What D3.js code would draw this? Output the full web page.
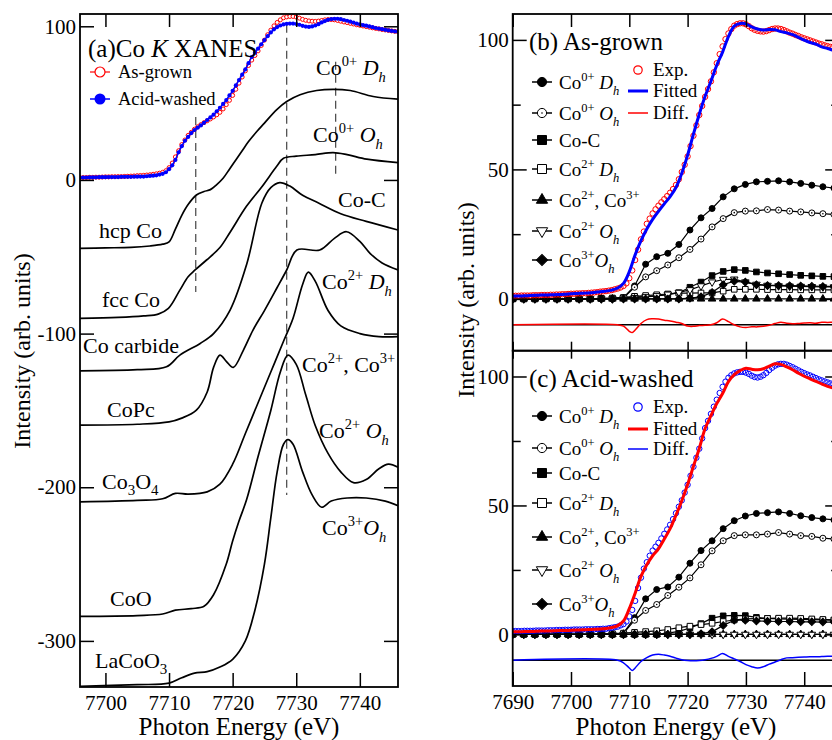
<!DOCTYPE html>
<html>
<head>
<meta charset="utf-8">
<script src="https://cdn.jsdelivr.net/npm/d3@7"></script>
<style>
  body { margin: 0; background: #fff; }
  svg { display: block; }
</style>
</head>
<body>
<script>
// ---------- data ----------

// experimental spectra, 0.5 eV steps from 7690 eV
const expStart = 7690, expStep = 0.5;
const asGrownExp = [
  1.2,1.2,1.2,1.3,1.3,1.3,1.3,1.4,1.4,1.4,
  1.5,1.5,1.5,1.6,1.6,1.7,1.7,1.8,1.8,1.9,
  2.0,2.0,2.1,2.1,2.2,2.2,2.3,2.4,2.5,2.6,
  2.8,2.9,3.0,3.2,3.4,3.7,4.0,4.4,5.0,6.0,
  8.0,11.0,15.0,19.0,23.0,26.0,29.0,31.0,33.0,34.6,
  36.0,37.3,38.5,39.7,41.0,42.4,44.0,46.2,49.0,51.8,
  55.0,59.0,63.0,67.0,71.0,74.5,78.0,81.0,84.0,87.5,
  91.0,94.5,97.5,100.3,102.5,104.2,105.5,106.1,106.4,106.4,
  106.0,105.3,104.5,103.9,103.5,103.3,103.2,103.4,103.8,104.2,
  104.4,104.4,104.2,103.8,103.3,102.8,102.4,101.9,101.5,101.0,
  100.6,100.2,99.8,99.4,99.0,98.6,98.3,97.9,97.6,97.3,
  97.0,96.7,96.5
];
const acidWashedExp = [
  1.3,1.3,1.3,1.3,1.4,1.4,1.4,1.4,1.5,1.5,
  1.5,1.5,1.6,1.6,1.6,1.7,1.7,1.7,1.8,1.8,
  1.8,1.9,1.9,1.9,1.9,2.0,2.0,2.0,2.0,2.1,
  2.1,2.2,2.2,2.4,2.6,2.8,3.0,3.5,4.0,5.0,
  7.0,9.5,13.0,18.0,22.0,25.5,28.0,30.5,32.5,34.0,
  35.5,37.2,39.0,40.7,42.5,44.7,47.0,49.5,52.0,55.0,
  58.0,61.5,65.0,68.5,72.0,76.0,80.0,82.8,85.5,88.3,
  91.0,93.6,96.0,98.0,99.5,100.5,101.2,101.6,101.8,101.8,
  101.5,101.0,100.3,99.8,99.6,99.9,100.5,101.4,102.5,103.4,
  104.2,104.7,104.9,104.9,104.6,104.1,103.6,103.0,102.4,101.8,
  101.3,100.8,100.4,99.9,99.4,98.9,98.5,98.1,97.7,97.3,
  97.0,96.7,96.5
];

// fitted curves, 1 eV steps from 7690 eV
const fitStart = 7690, fitStep = 1;
const asGrownFit = [
  1.1,1.1,1.2,1.3,1.4,1.5,1.5,1.6,1.7,1.8,
  2.0,2.1,2.2,2.3,2.5,2.8,3.0,3.4,4.2,6.0,
  10.5,17.0,22.5,27.0,30.7,33.8,36.7,39.5,43.0,48.5,
  55.5,63.6,71.3,78.2,84.0,90.2,95.3,101.3,105.3,106.3,
  106.2,105.0,104.2,103.8,104.0,103.9,103.2,102.7,102.0,101.0,
  99.9,99.0,98.4,97.3,96.7,96.0,95.5
];
const acidWashedFit = [
  1.0,1.0,1.1,1.1,1.2,1.3,1.3,1.4,1.5,1.5,
  1.6,1.7,1.8,1.9,2.0,2.1,2.3,2.7,3.4,5.2,
  10.0,16.0,22.5,27.0,30.5,33.2,37.0,41.0,46.2,51.8,
  58.1,65.2,72.1,79.8,84.8,89.5,93.4,98.0,100.7,102.3,
  103.2,102.8,102.6,103.0,104.0,104.9,104.7,103.7,102.6,101.3,
  100.1,99.1,98.1,97.1,96.2,95.5,95.0
];

// difference curves [eV, value], drawn about an offset of -10
const diffOffset = -10;
const asGrownDiff = [
  [7690,0],[7708,0],[7709,-0.5],[7710,-2.5],[7710.5,-3],[7711,-2],[7712,0.5],[7713,2],
  [7714,2.3],[7715,2.2],[7716,1.8],[7717,1.5],[7718,1],[7719,0.5],[7720,-0.5],[7721,-0.6],
  [7722,-0.3],[7723,-0.2],[7724,0],[7725,0.8],[7726,2.2],[7727,1.2],[7728,0],[7729,-0.8],
  [7730,-1],[7731,-0.8],[7732,-0.8],[7733,-0.6],[7734,-0.2],[7735,0.5],[7736,1],[7737,0.6],
  [7738,0.4],[7739,0.5],[7740,0.7],[7741,0.8],[7742,0.6],[7743,1],[7744,0.9],[7745,1],[7746,1]
];
const acidWashedDiff = [
  [7690,0],[7708,0],[7709,-1],[7710,-3],[7710.5,-4],[7711,-3],[7712,-0.5],[7713,1],
  [7714,2],[7715,2.3],[7716,2],[7717,1.5],[7718,0.8],[7719,0.2],[7720,-0.1],[7721,-0.2],
  [7722,-0.1],[7723,0.2],[7724,0.7],[7725,1.5],[7726,2.6],[7727,1.5],[7728,0.5],[7729,-0.5],
  [7730,-1.7],[7731,-2.5],[7732,-3],[7733,-2.5],[7734,-1.5],[7735,-0.7],[7736,0.2],[7737,0.9],
  [7738,1],[7739,1.1],[7740,1.2],[7741,1.3],[7742,1.3],[7743,1.4],[7744,1.5],[7745,1.5],[7746,1.5]
];

// fit components
const compEnergies = [
  7690,7691.9,7693.8,7695.7,7697.6,7699.5,7701.4,7703.3,7705.2,7707.1,
  7709,7710.9,7712.8,7714.7,7716.6,7718.5,7720.4,7722.3,7724.2,7726.1,
  7728,7729.9,7731.8,7733.7,7735.6,7737.5,7739.4,7741.3,7743.2,7745.1
];
const co0DhB = [0,0,0,0,0,0,0,0,0,0, 0.5,5.0,13.4,16.3,17.6,21.0,26.6,31.3,34.9,39.4, 42.5,44.2,45.2,45.4,45.6,45.2,44.6,43.9,43.3,42.8];
const co0OhB = [0,0,0,0,0,0,0,0,0,0, 0.4,4.5,8.5,10.9,13.1,15.9,19.1,23.1,27.8,31.0, 33.3,33.9,34.0,34.5,34.3,33.9,33.6,33.2,32.9,32.6];
const coCB   = [0,0,0,0,0,0,0,0,0.2,0.3, 0.5,0.7,0.9,1.2,1.6,2.4,4.5,6.5,9.0,10.6, 11.3,11.0,10.4,10.0,9.7,9.4,9.1,8.9,8.7,8.6];
const co2DhB = [0,0,0,0,0,0,0,0,0.2,0.3, 0.5,1.0,1.3,1.6,1.9,2.2,2.2,2.3,2.3,3.0, 3.7,3.7,3.7,3.6,3.6,3.6,3.5,3.5,3.5,3.5];
const co23B  = [0,0,0,0,0,0,0,0,0,0, 0,0,0,0,0,0,0,0,0,0, 0,0,0,0,0,0,0,0,0,0];
const co2OhB = [0,0,0,0,0,0,0,0,0,0, 0.3,0.5,0.8,1.2,1.8,2.5,3.5,5.0,6.5,7.5, 7.6,6.5,5.6,5.2,5.0,4.9,4.8,4.7,4.6,4.6];
const co3OhB = [0,0,0,0,0,0,0,0,0,0, 0,0,0,0,0,0,0.3,0.8,2.5,5.5, 6.8,6.5,5.5,5.2,5.2,5.1,5.0,4.9,4.8,4.8];

const co0DhC = [0,0,0,0,0,0,0,0,0,0, 0.5,6.5,13.8,17.4,18.4,22.2,27.6,32.5,36.3,41.0, 44.1,45.9,46.9,47.2,47.5,46.9,46.0,45.3,44.8,44.4];
const co0OhC = [0,0,0,0,0,0,0,0,0,0, 0.4,5.5,9.3,11.6,15.1,18.3,21.9,27.0,32.4,36.3, 38.3,38.6,38.6,38.9,39.5,38.9,38.3,38.0,37.3,37.0];
const coCC   = [0,0,0,0,0,0,0,0,0,0, 0,0,0,0,0.5,1.2,2.5,4.2,6.3,7.2, 7.4,7.3,6.6,6.2,6.0,5.9,5.8,5.7,5.6,5.5];
const co2DhC = [0,0,0,0,0,0,0,0,0.2,0.3, 0.5,0.8,1.1,1.4,1.9,2.6,3.2,3.8,4.3,5.0, 5.6,6.0,6.1,6.2,6.3,6.3,6.2,6.0,5.8,5.6];
const co23C  = [0,0,0,0,0,0,0,0,0,0, 0,0,0,0,0,0,0,0,0,0, 0,0,0,0,0,0,0,0,0,0];
const co2OhC = [0,0,0,0,0,0,0,0,0,0, 0,0,0,0,0,0,0,0,0,0, 0,0,0,0,0,0,0,0,0,0];
const co3OhC = [0,0,0,0,0,0,0,0,0,0, 0,0,0,0,0,0,0,0.3,1.0,3.5, 5.5,5.5,5.2,5.1,5.0,5.0,4.9,4.9,4.8,4.8];

// reference spectra in panel (a), [eV, plotted value incl. offset]
const hcpCo = [[7696,-44.5],[7700,-44.2],[7704,-43.9],[7707,-43],[7709,-41.8],[7710,-40.3],[7711,-32],[7712,-23],[7713,-16],[7714.3,-9.8],[7715.5,-7.5],[7716.5,-6.3],[7717.5,-3],[7718.5,1.1],[7719.5,7],[7720.5,13],[7721.5,19],[7722.5,25],[7723.8,31.5],[7725,37],[7726.9,45.6],[7728.5,51],[7730.6,55.4],[7733.2,58.2],[7735.8,59],[7738.5,58.2],[7742.1,54.3],[7746,52.6]];
const fccCo = [[7696,-90.1],[7702,-89.5],[7706,-88.5],[7708.3,-87.3],[7709.9,-83.6],[7711.7,-71.7],[7713,-63],[7714.1,-58.6],[7715.9,-52.1],[7718,-44],[7719.6,-34],[7722.2,-17],[7724.6,-4.4],[7726.9,8.7],[7728,14.1],[7730,15.5],[7733,16.5],[7735.8,17.8],[7738,16.5],[7741.1,13.5],[7746,11.3]];
const coCarbide = [[7696,-124.2],[7705,-123.5],[7709.6,-121.6],[7711.7,-114],[7714.9,-106.4],[7717,-100],[7719.6,-84.7],[7722.2,-55],[7724.6,-15],[7726,-5],[7727.4,-1.7],[7729,-4],[7731,-10],[7733.5,-15],[7737,-22],[7741,-27],[7746,-32.6]];
const coPc = [[7696,-159.6],[7705,-159],[7710,-157.5],[7712,-155],[7714.3,-149.8],[7716,-138],[7717,-122],[7718,-114],[7719,-118],[7720.1,-122],[7721.7,-110.7],[7723.2,-97.7],[7725,-85],[7727,-70],[7728.5,-58.6],[7730.1,-45.6],[7733.7,-45.6],[7736,-38],[7737.9,-33.7],[7740,-40],[7741.6,-47.8],[7743.5,-54],[7746,-58.6]];
const co3o4 = [[7696,-209.5],[7705,-208.5],[7709,-207.5],[7711,-204],[7713,-204.5],[7716,-203],[7718,-198],[7720,-185],[7722,-165],[7724,-145],[7726,-125],[7728,-105],[7729.5,-90],[7731,-68],[7731.9,-60],[7733,-66],[7735,-85],[7737,-95],[7740,-100],[7743,-102],[7746,-102]];
const coO = [[7696,-284],[7705,-283.5],[7709,-282.5],[7711,-280],[7713.5,-279],[7715.5,-277.5],[7717,-270],[7719,-250],[7720,-235],[7721,-222],[7722.2,-208],[7724,-180],[7726,-150],[7727.5,-125],[7728.7,-114],[7730,-120],[7731.5,-140],[7733,-160],[7735,-178],[7737,-190],[7739,-197],[7741,-195],[7743,-188],[7744.5,-185],[7746,-187]];
const laCoO3 = [[7696,-329.5],[7705,-328.5],[7710,-327.5],[7712,-324],[7714,-321],[7716,-320],[7718,-317],[7720,-312],[7722,-300],[7723.5,-280],[7725,-250],[7726,-220],[7727,-190],[7728,-172],[7728.7,-169],[7729.5,-172],[7731,-190],[7732.5,-205],[7734,-213],[7735.5,-209],[7738,-207],[7741,-207],[7744,-209],[7746,-212]];

// dashed guide lines in (a)
const guideEnergies = [7714.2, 7728.5, 7736.2];
const guideTop = [41, 101, 77];
const guideBottom = [-73, -205, 3];

// ---------- drawing ----------
const W = 832, H = 740;
const font = '"Liberation Serif", "Times New Roman", serif';

const svg = d3.select("body").append("svg")
    .attr("width", W).attr("height", H)
    .attr("font-family", font);

function rich(g, x, y, parts, size, anchor) {
    const t = g.append("text")
        .attr("x", x).attr("y", y)
        .attr("font-size", size)
        .attr("text-anchor", anchor || "start");
    let shift = 0;
    parts.forEach(([txt, kind]) => {
        let target = 0;
        if (kind === "sup") target = -0.42 * size;
        if (kind === "sub") target = 0.3 * size;
        const s = t.append("tspan").attr("dy", target - shift).text(txt);
        shift = target;
        if (kind === "sup" || kind === "sub") s.attr("font-size", size * 0.66);
        if (kind === "it" || kind === "sub") s.attr("font-style", "italic");
    });
    return t;
}

function frame(g, x, y, box, o) {
    const style = sel => sel
        .attr("font-family", font).attr("font-size", 21)
        .call(s => s.select(".domain").remove())
        .call(s => s.selectAll(".tick line").attr("stroke-width", 1.5));
    g.append("g").attr("transform", `translate(0,${box.bottom})`)
        .call(d3.axisBottom(x).tickValues(o.xTicks).tickSize(-o.bottomTick).tickPadding(8)
            .tickFormat(o.xLabels ? d => d : () => ""))
        .call(style);
    g.append("g").attr("transform", `translate(0,${box.top})`)
        .call(d3.axisTop(x).tickValues(o.xTicks).tickSize(-o.topTick).tickFormat(() => ""))
        .call(style);
    g.append("g").attr("transform", `translate(${box.left},0)`)
        .call(d3.axisLeft(y).tickValues(o.yTicks).tickSize(-14).tickPadding(4).tickFormat(d => d))
        .call(style);
    g.append("g").attr("transform", `translate(${box.right},0)`)
        .call(d3.axisRight(y).tickValues(o.yTicks).tickSize(-14).tickFormat(() => ""))
        .call(style);
    if (o.yMinor) {
        g.append("g").attr("transform", `translate(${box.left},0)`)
            .call(d3.axisLeft(y).tickValues(o.yMinor).tickSize(-8).tickFormat(() => ""))
            .call(style);
        g.append("g").attr("transform", `translate(${box.right},0)`)
            .call(d3.axisRight(y).tickValues(o.yMinor).tickSize(-8).tickFormat(() => ""))
            .call(style);
    }
    g.append("rect")
        .attr("x", box.left).attr("y", box.top)
        .attr("width", box.right - box.left).attr("height", box.bottom - box.top)
        .attr("fill", "none").attr("stroke", "#000").attr("stroke-width", 1.8);
}

function clip(id, box) {
    svg.append("clipPath").attr("id", id).append("rect")
        .attr("x", box.left).attr("y", box.top)
        .attr("width", box.right - box.left).attr("height", box.bottom - box.top);
}

const expPoints = vals => vals.map((v, i) => [expStart + i * expStep, v]);
const fitPoints = vals => vals.map((v, i) => [fitStart + i * fitStep, v]);

// ---------- panel (a) ----------
const boxA = { left: 80, right: 398, top: 14, bottom: 687 };
const xA = d3.scaleLinear().domain([7696, 7746]).range([boxA.left, boxA.right]);
const yA = d3.scaleLinear().domain([-330, 108]).range([boxA.bottom, boxA.top]);
clip("clipA", boxA);

const gA = svg.append("g");
const plotA = gA.append("g").attr("clip-path", "url(#clipA)");

const lineA = d3.line().x(d => xA(d[0])).y(d => yA(d[1])).curve(d3.curveCatmullRom.alpha(0.5));

plotA.selectAll("line.guide")
    .data(guideEnergies)
    .join("line")
    .attr("class", "guide")
    .attr("x1", d => xA(d)).attr("x2", d => xA(d))
    .attr("y1", (d, i) => yA(guideTop[i])).attr("y2", (d, i) => yA(guideBottom[i]))
    .attr("stroke", "#444").attr("stroke-width", 1.2).attr("stroke-dasharray", "8,5");

[hcpCo, fccCo, coCarbide, coPc, co3o4, coO, laCoO3].forEach(ref => {
    plotA.append("path").datum(ref)
        .attr("d", lineA)
        .attr("fill", "none").attr("stroke", "#000").attr("stroke-width", 1.7);
});

const lineAstraight = d3.line().x(d => xA(d[0])).y(d => yA(d[1]));
plotA.append("path").datum(expPoints(asGrownExp))
    .attr("d", lineAstraight).attr("fill", "none").attr("stroke", "red").attr("stroke-width", 1);
plotA.append("g").selectAll("circle")
    .data(expPoints(asGrownExp))
    .join("circle")
    .attr("cx", d => xA(d[0])).attr("cy", d => yA(d[1])).attr("r", 2)
    .attr("fill", "#fff").attr("stroke", "red").attr("stroke-width", 1);
plotA.append("path").datum(expPoints(acidWashedExp))
    .attr("d", lineAstraight).attr("fill", "none").attr("stroke", "blue").attr("stroke-width", 1.5);
plotA.append("g").selectAll("circle")
    .data(expPoints(acidWashedExp))
    .join("circle")
    .attr("cx", d => xA(d[0])).attr("cy", d => yA(d[1])).attr("r", 2.1)
    .attr("fill", "blue");

frame(gA, xA, yA, boxA, {
    xTicks: [7700, 7710, 7720, 7730, 7740], xLabels: true,
    yTicks: [100, 0, -100, -200, -300],
    bottomTick: 14, topTick: 13
});

// title + legend of (a)
rich(gA, 88, 57, [["(a)Co "], ["K", "it"], [" XANES"]], 25);
gA.append("line").attr("x1", 90).attr("x2", 110).attr("y1", 72).attr("y2", 72).attr("stroke", "red").attr("stroke-width", 1.2);
gA.append("circle").attr("cx", 100).attr("cy", 72).attr("r", 5).attr("fill", "#fff").attr("stroke", "red").attr("stroke-width", 1.2);
gA.append("text").attr("x", 118).attr("y", 78).attr("font-size", 18.5).text("As-grown");
gA.append("line").attr("x1", 90).attr("x2", 110).attr("y1", 99).attr("y2", 99).attr("stroke", "blue").attr("stroke-width", 1.5);
gA.append("circle").attr("cx", 100).attr("cy", 99).attr("r", 5.5).attr("fill", "blue");
gA.append("text").attr("x", 118).attr("y", 105).attr("font-size", 18.5).text("Acid-washed");

// curve names
const leftNames = [
    [99, 238, [["hcp Co"]]],
    [102, 307, [["fcc Co"]]],
    [83, 353, [["Co carbide"]]],
    [107, 417, [["CoPc"]]],
    [102, 489, [["Co"], ["3", "lsubn"], ["O"], ["4", "lsubn"]]],
    [110, 606, [["CoO"]]],
    [95, 668, [["LaCoO"], ["3", "lsubn"]]]
];
leftNames.forEach(([x, y, parts]) => {
    const t = gA.append("text").attr("x", x).attr("y", y).attr("font-size", 22);
    let shift = 0;
    parts.forEach(([txt, kind]) => {
        const target = kind === "lsubn" ? 6 : 0;
        const s = t.append("tspan").attr("dy", target - shift).text(txt);
        shift = target;
        if (kind) s.attr("font-size", 15);
    });
});
const rightNames = [
    [316, 75, [["Co"], ["0+", "sup"], [" "], ["D", "it"], ["h", "sub"]]],
    [313, 142, [["Co"], ["0+", "sup"], [" "], ["O", "it"], ["h", "sub"]]],
    [338, 207, [["Co-C"]]],
    [322, 289, [["Co"], ["2+", "sup"], [" "], ["D", "it"], ["h", "sub"]]],
    [302, 372, [["Co"], ["2+", "sup"], [", Co"], ["3+", "sup"]]],
    [319, 438, [["Co"], ["2+", "sup"], [" "], ["O", "it"], ["h", "sub"]]],
    [322, 535, [["Co"], ["3+", "sup"], ["O", "it"], ["h", "sub"]]]
];
rightNames.forEach(([x, y, parts]) => rich(gA, x, y, parts, 22));

gA.append("text")
    .attr("transform", "translate(30,351) rotate(-90)")
    .attr("text-anchor", "middle").attr("font-size", 24)
    .text("Intensity (arb. units)");
gA.append("text")
    .attr("x", 239).attr("y", 735)
    .attr("text-anchor", "middle").attr("font-size", 25)
    .text("Photon Energy (eV)");

// ---------- panels (b) and (c) ----------
const xB = d3.scaleLinear().domain([7690, 7746]).range([512.7, 839.2]);
const boxB = { left: 512.7, right: 839.2, top: 14, bottom: 350.7 };
const boxC = { left: 512.7, right: 839.2, top: 350.7, bottom: 686 };
const yB = d3.scaleLinear().domain([-20, 110]).range([boxB.bottom, boxB.top]);
const yC = d3.scaleLinear().domain([-20, 110]).range([boxC.bottom, boxC.top]);
clip("clipB", boxB);
clip("clipC", boxC);

const shapes = [
    { shape: "circle", fill: "#000" },
    { shape: "circle", fill: "#fff", dot: true },
    { shape: "square", fill: "#000" },
    { shape: "square", fill: "#fff" },
    { shape: "triangle", fill: "#000" },
    { shape: "triangle", fill: "#fff", rotate: 180 },
    { shape: "diamond", fill: "#000", rotate: 45 }
];
function symbolPath(shape, r) {
    if (shape === "circle") return d3.symbol(d3.symbolCircle, Math.PI * r * r)();
    if (shape === "square") return d3.symbol(d3.symbolSquare, 4 * r * r)();
    if (shape === "triangle") return d3.symbol(d3.symbolTriangle, 1.9 * r * r)();
    return d3.symbol(d3.symbolSquare, 2 * r * r)();
}
function marker(g, st, x, y, r) {
    const m = g.append("g").attr("transform", `translate(${x},${y})`);
    m.append("path")
        .attr("d", symbolPath(st.shape, r))
        .attr("transform", st.rotate ? `rotate(${st.rotate})` : null)
        .attr("fill", st.fill).attr("stroke", "#000").attr("stroke-width", 1);
    if (st.dot) m.append("circle").attr("r", 0.8).attr("fill", "#000");
}
const sizeOf = { circle: 3, square: 2.8, triangle: 3.6, diamond: 3.8 };
const legendSize = { circle: 4.6, square: 4.5, triangle: 5.4, diamond: 5.6 };

const compNames = [
    [["Co"], ["0+", "sup"], [" "], ["D", "it"], ["h", "sub"]],
    [["Co"], ["0+", "sup"], [" "], ["O", "it"], ["h", "sub"]],
    [["Co-C"]],
    [["Co"], ["2+", "sup"], [" "], ["D", "it"], ["h", "sub"]],
    [["Co"], ["2+", "sup"], [", Co"], ["3+", "sup"]],
    [["Co"], ["2+", "sup"], [" "], ["O", "it"], ["h", "sub"]],
    [["Co"], ["3+", "sup"], ["O", "it"], ["h", "sub"]]
];

function fitPanel(box, y, o) {
    const g = svg.append("g");
    const plot = g.append("g").attr("clip-path", `url(#${o.clipId})`);
    const line = d3.line().x(d => xB(d[0])).y(d => y(d[1]));
    const smooth = d3.line().x(d => xB(d[0])).y(d => y(d[1])).curve(d3.curveCatmullRom.alpha(0.5));

    // components
    o.components.forEach((vals, k) => {
        const pts = vals.map((v, i) => [compEnergies[i], v]);
        plot.append("path").datum(pts).attr("d", line)
            .attr("fill", "none").attr("stroke", "#000").attr("stroke-width", 1.2);
        pts.forEach(p => marker(plot, shapes[k], xB(p[0]), y(p[1]), sizeOf[shapes[k].shape]));
    });

    // experiment
    plot.append("g").selectAll("circle")
        .data(expPoints(o.exp))
        .join("circle")
        .attr("cx", d => xB(d[0])).attr("cy", d => y(d[1])).attr("r", 2.7)
        .attr("fill", "none").attr("stroke", o.expColor).attr("stroke-width", 1);

    // fitted
    plot.append("path").datum(fitPoints(o.fit)).attr("d", smooth)
        .attr("fill", "none").attr("stroke", o.fitColor).attr("stroke-width", 3);

    // difference
    plot.append("line")
        .attr("x1", box.left).attr("x2", box.right)
        .attr("y1", y(diffOffset)).attr("y2", y(diffOffset))
        .attr("stroke", "#000").attr("stroke-width", 1.5);
    plot.append("path").datum(o.diff.map(d => [d[0], d[1] + diffOffset])).attr("d", smooth)
        .attr("fill", "none").attr("stroke", o.diffColor).attr("stroke-width", 1.5);

    frame(g, xB, y, box, {
        xTicks: [7690, 7700, 7710, 7720, 7730, 7740], xLabels: o.xLabels,
        yTicks: [0, 50, 100], yMinor: [25, 75],
        bottomTick: o.bottomTick, topTick: o.topTick
    });

    rich(g, 529, o.titleY, [[o.title]], 25);

    // component legend
    o.legendRows.forEach((ly, k) => {
        g.append("line").attr("x1", 532).attr("x2", 552).attr("y1", ly).attr("y2", ly)
            .attr("stroke", "#000").attr("stroke-width", 1.5);
        marker(g, shapes[k], 542, ly, legendSize[shapes[k].shape]);
        rich(g, 559, ly + 7, compNames[k], 19);
    });
    // exp / fit / diff legend
    const [ey, fy, dy] = o.expLegend;
    g.append("circle").attr("cx", 638).attr("cy", ey).attr("r", 4.2)
        .attr("fill", "none").attr("stroke", o.expColor).attr("stroke-width", 1.2);
    g.append("text").attr("x", 653).attr("y", ey + 6).attr("font-size", 19).text("Exp.");
    g.append("line").attr("x1", 628).attr("x2", 648).attr("y1", fy).attr("y2", fy)
        .attr("stroke", o.fitColor).attr("stroke-width", 3);
    g.append("text").attr("x", 653).attr("y", fy + 6).attr("font-size", 19).text("Fitted");
    g.append("line").attr("x1", 628).attr("x2", 648).attr("y1", dy).attr("y2", dy)
        .attr("stroke", o.diffColor).attr("stroke-width", 1.5);
    g.append("text").attr("x", 653).attr("y", dy + 6).attr("font-size", 19).text("Diff.");
    return g;
}

fitPanel(boxB, yB, {
    clipId: "clipB",
    components: [co0DhB, co0OhB, coCB, co2DhB, co23B, co2OhB, co3OhB],
    exp: asGrownExp, fit: asGrownFit, diff: asGrownDiff,
    expColor: "red", fitColor: "blue", diffColor: "red",
    xLabels: false, bottomTick: 9, topTick: 13,
    title: "(b) As-grown", titleY: 50,
    legendRows: [82, 113, 140, 169, 200, 231, 260],
    expLegend: [70, 91, 113]
});
fitPanel(boxC, yC, {
    clipId: "clipC",
    components: [co0DhC, co0OhC, coCC, co2DhC, co23C, co2OhC, co3OhC],
    exp: acidWashedExp, fit: acidWashedFit, diff: acidWashedDiff,
    expColor: "blue", fitColor: "red", diffColor: "blue",
    xLabels: true, bottomTick: 14, topTick: 8,
    title: "(c) Acid-washed", titleY: 387,
    legendRows: [416, 448, 473, 503, 537, 570, 604],
    expLegend: [407, 429, 449]
});

svg.append("text")
    .attr("transform", "translate(474,300) rotate(-90)")
    .attr("text-anchor", "middle").attr("font-size", 24)
    .text("Intensity (arb. units)");
svg.append("text")
    .attr("x", 676).attr("y", 735)
    .attr("text-anchor", "middle").attr("font-size", 25)
    .text("Photon Energy (eV)");
</script>
</body>
</html>
